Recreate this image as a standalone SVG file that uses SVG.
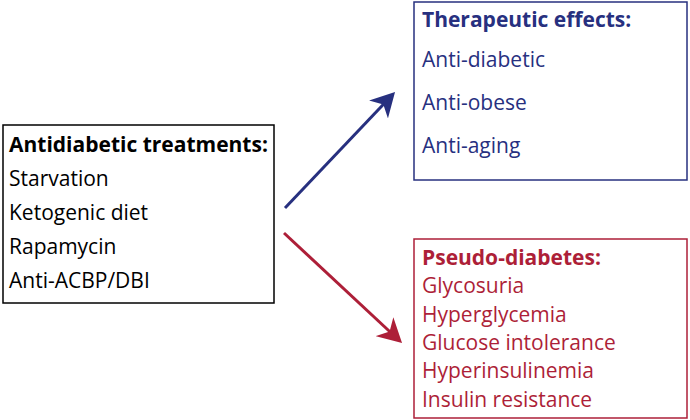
<svg xmlns="http://www.w3.org/2000/svg" width="690" height="420" viewBox="0 0 690 420">
<style>
text{font-family:"Open Sans","Liberation Sans",sans-serif;font-size:21px}
.b{font-weight:bold}
.k{fill:#000}
.bl{fill:#27307f}
.rd{fill:#ad1f38}
.box{fill:#fff;stroke-width:1.5}
</style>
<defs>
<marker id="ab" viewBox="0 0 24 26" refX="10" refY="13" markerWidth="24" markerHeight="26" markerUnits="userSpaceOnUse" orient="auto"><path d="M0,0 L24,13 L0,26 L7,13 Z" fill="#27307f"/></marker>
<marker id="ar" viewBox="0 0 24 26" refX="10" refY="13" markerWidth="24" markerHeight="26" markerUnits="userSpaceOnUse" orient="auto"><path d="M0,0 L24,13 L0,26 L7,13 Z" fill="#ad1f38"/></marker>
</defs>
<rect width="690" height="420" fill="#fff"/>
<g id="connectors">
<line x1="285" y1="208" x2="385.4" y2="102.2" stroke="#27307f" stroke-width="3" marker-end="url(#ab)"/>
<line x1="284" y1="233" x2="391.8" y2="333.5" stroke="#ad1f38" stroke-width="3" marker-end="url(#ar)"/>
</g>
<g id="treatments">
<rect class="box" x="3" y="125" width="271" height="178" stroke="#000"/>
<text class="b k" x="9" y="152">Antidiabetic treatments:</text>
<text class="k" x="9" y="186">Starvation</text>
<text class="k" x="9" y="220">Ketogenic diet</text>
<text class="k" x="9" y="254">Rapamycin</text>
<text class="k" x="9" y="288">Anti-ACBP/DBI</text>
</g>
<g id="therapeutic">
<rect class="box" x="414" y="2" width="273" height="178" stroke="#27307f"/>
<text class="b bl" x="422" y="27">Therapeutic effects:</text>
<text class="bl" x="422" y="67">Anti-diabetic</text>
<text class="bl" x="422" y="110">Anti-obese</text>
<text class="bl" x="422" y="153">Anti-aging</text>
</g>
<g id="pseudo">
<rect class="box" x="414" y="239" width="273" height="179" stroke="#ad1f38"/>
<text class="b rd" x="422" y="265">Pseudo-diabetes:</text>
<text class="rd" x="422" y="293">Glycosuria</text>
<text class="rd" x="422" y="322">Hyperglycemia</text>
<text class="rd" x="422" y="350">Glucose intolerance</text>
<text class="rd" x="422" y="378">Hyperinsulinemia</text>
<text class="rd" x="422" y="407">Insulin resistance</text>
</g>
</svg>
